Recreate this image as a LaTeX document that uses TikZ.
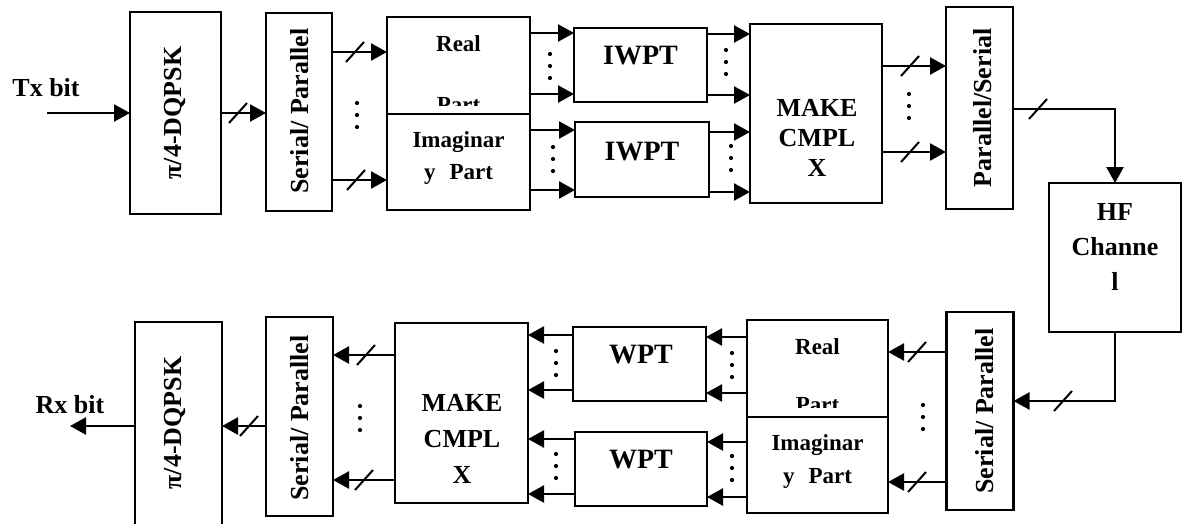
\documentclass[tikz,border=0pt]{standalone}
\usepackage{fontspec}
\setmainfont{Liberation Serif}
\usetikzlibrary{arrows.meta}

\tikzset{
  blk/.style={draw, line width=2.4pt, inner sep=0pt, outer sep=0pt},
  lbl/.style={font=\bfseries\fontsize{26}{30}\selectfont, inner sep=0pt, align=center},
  lblsm/.style={font=\bfseries\fontsize{23}{28}\selectfont, inner sep=0pt, anchor=base},
  lblbig/.style={font=\bfseries\fontsize{28}{32}\selectfont, inner sep=0pt},
  sig/.style={line width=2.4pt, -{Triangle[length=16pt,width=17pt]}},
  busmark/.pic={\draw[line width=2pt] (-9pt,-10pt) -- (9pt,10pt);},
  dotcol/.pic={\fill (0pt,-12pt) circle (2.1pt) (0pt,0pt) circle (2.1pt) (0pt,12pt) circle (2.1pt);},
}

\begin{document}
\begin{tikzpicture}[x=1pt, y=-1pt]
\useasboundingbox (0,0) rectangle (1182,523);
\clip (0,0) rectangle (1182,523);

% ---------------- transmitter ----------------
\node[blk, minimum width=91pt, minimum height=202pt] (mod1) at (175.5,113) {};
\node[lbl, rotate=90] (mod1t) at (175,113) {π/4-DQPSK};

\node[blk, minimum width=66pt, minimum height=198pt] (sp1) at (299,112) {};
\node[lbl, rotate=90] (sp1t) at (300,111) {Serial/ Parallel};

\node[blk, minimum width=143pt, minimum height=97pt] (re1) at (458.5,65.5) {};
\node[lblsm] (re1a) at (458.5,51.5) {Real};
\begin{scope}
  \clip (re1.north west) rectangle ([yshift=9pt]re1.south east);
  \node[lblsm] (re1b) at (458.5,112) {Part};
\end{scope}

\node[blk, minimum width=143pt, minimum height=96pt] (im1) at (458.5,162) {};
\node[lblsm] (im1a) at (458.5,147.5) {Imaginar};
\node[lblsm] (im1b) at (458.5,179) {y\hspace{14pt}Part};

\node[blk, minimum width=133pt, minimum height=74pt] (iw1) at (640.5,65) {};
\node[lblbig] (iw1t) at (640.5,56) {IWPT};
\node[blk, minimum width=134pt, minimum height=75pt] (iw2) at (642,159.5) {};
\node[lblbig] (iw2t) at (642,152) {IWPT};

\node[blk, minimum width=132pt, minimum height=179pt] (mk1) at (816,113.5) {};
\node[lbl] (mk1t) at (817,138) {MAKE\\CMPL\\X};

\node[blk, minimum width=67pt, minimum height=202pt] (ps1) at (979.5,108) {};
\node[lbl, rotate=90] (ps1t) at (983,108) {Parallel/Serial};

\node[blk, minimum width=132pt, minimum height=149pt] (hf) at (1115,257.5) {};
\node[lbl, font=\bfseries\fontsize{26}{35}\selectfont] (hft) at (1115,247) {HF\\Channe\\l};

\node[lbl] (tx) at (46,88) {Tx bit};
\coordinate (txin) at (47,113);

% ---------------- receiver ----------------
\node[blk, minimum width=67pt, minimum height=198pt] (sp2) at (980,411) {};
\node[lbl, rotate=90] (sp2t) at (985,411) {Serial/ Parallel};

\node[blk, minimum width=141pt, minimum height=97pt] (re2) at (817.5,368.5) {};
\node[lblsm] (re2a) at (817.5,354) {Real};
\begin{scope}
  \clip (re2.north west) rectangle ([yshift=10pt]re2.south east);
  \node[lblsm] (re2b) at (817.5,412) {Part};
\end{scope}

\node[blk, minimum width=141pt, minimum height=96pt] (im2) at (817.5,465) {};
\node[lblsm] (im2a) at (817.5,450.5) {Imaginar};
\node[lblsm] (im2b) at (817.5,483) {y\hspace{14pt}Part};

\node[blk, minimum width=133pt, minimum height=74pt] (wp1) at (639.5,364) {};
\node[lblbig] (wp1t) at (641,355) {WPT};
\node[blk, minimum width=132pt, minimum height=74pt] (wp2) at (641,469) {};
\node[lblbig] (wp2t) at (641,460) {WPT};

\node[blk, minimum width=133pt, minimum height=180pt] (mk2) at (461.5,413) {};
\node[lbl, font=\bfseries\fontsize{26}{36}\selectfont] (mk2t) at (462,439) {MAKE\\CMPL\\X};

\node[blk, minimum width=67pt, minimum height=199pt] (sp3) at (299.5,416.5) {};
\node[lbl, rotate=90] (sp3t) at (300,418) {Serial/ Parallel};

\node[blk, minimum width=87pt, minimum height=230pt] (mod2) at (178.5,437) {};
\node[lbl, rotate=90] (mod2t) at (175,423) {π/4-DQPSK};

\node[lbl] (rx) at (70,405) {Rx bit};
\coordinate (rxout) at (70,426);

% ---------------- transmitter connectors ----------------
\draw[sig] (txin) -- (mod1.west |- txin);
\draw[sig] (mod1.east |- 0,113) -- (sp1.west |- 0,113);
\pic at (238,113) {busmark};

\draw[sig] (sp1.east |- 0,52) -- (re1.west |- 0,52);
\draw[sig] (sp1.east |- 0,180) -- (im1.west |- 0,180);
\pic at (355,52) {busmark};
\pic at (356,180) {busmark};
\pic at (357,115) {dotcol};

\draw[sig] (re1.east |- 0,33) -- (iw1.west |- 0,33);
\draw[sig] (re1.east |- 0,94) -- (iw1.west |- 0,94);
\pic at (550,66) {dotcol};
\draw[sig] (im1.east |- 0,130) -- (iw2.west |- 0,130);
\draw[sig] (im1.east |- 0,190) -- (iw2.west |- 0,190);
\pic at (553,159) {dotcol};

\draw[sig] (iw1.east |- 0,34) -- (mk1.west |- 0,34);
\draw[sig] (iw1.east |- 0,95) -- (mk1.west |- 0,95);
\pic at (726,62) {dotcol};
\draw[sig] (iw2.east |- 0,132) -- (mk1.west |- 0,132);
\draw[sig] (iw2.east |- 0,192) -- (mk1.west |- 0,192);
\pic at (731,158) {dotcol};

\draw[sig] (mk1.east |- 0,66) -- (ps1.west |- 0,66);
\draw[sig] (mk1.east |- 0,152) -- (ps1.west |- 0,152);
\pic at (910,66) {busmark};
\pic at (910,152) {busmark};
\pic at (909,106) {dotcol};

\draw[sig] (ps1.east |- 0,109) -| (hf.north);
\pic at (1038,109) {busmark};

% ---------------- receiver connectors ----------------
\draw[sig] (hf.south) |- (sp2.east |- 0,401);
\pic at (1063,401) {busmark};

\draw[sig] (sp2.west |- 0,352) -- (re2.east |- 0,352);
\draw[sig] (sp2.west |- 0,482) -- (im2.east |- 0,482);
\pic at (917,352) {busmark};
\pic at (917,482) {busmark};
\pic at (923,417) {dotcol};

\draw[sig] (re2.west |- 0,337) -- (wp1.east |- 0,337);
\draw[sig] (re2.west |- 0,393) -- (wp1.east |- 0,393);
\pic at (732,365) {dotcol};
\draw[sig] (im2.west |- 0,442) -- (wp2.east |- 0,442);
\draw[sig] (im2.west |- 0,497) -- (wp2.east |- 0,497);
\pic at (732,468) {dotcol};

\draw[sig] (wp1.west |- 0,335) -- (mk2.east |- 0,335);
\draw[sig] (wp1.west |- 0,390) -- (mk2.east |- 0,390);
\pic at (556,363) {dotcol};
\draw[sig] (wp2.west |- 0,439) -- (mk2.east |- 0,439);
\draw[sig] (wp2.west |- 0,494) -- (mk2.east |- 0,494);
\pic at (556,466) {dotcol};

\draw[sig] (mk2.west |- 0,355) -- (sp3.east |- 0,355);
\draw[sig] (mk2.west |- 0,480) -- (sp3.east |- 0,480);
\pic at (366,355) {busmark};
\pic at (364,480) {busmark};
\pic at (360,418) {dotcol};

\draw[sig] (sp3.west |- 0,426) -- (mod2.east |- 0,426);
\pic at (249,426) {busmark};
\draw[sig] (mod2.west |- 0,426) -- (rxout);
\end{tikzpicture}
\end{document}
